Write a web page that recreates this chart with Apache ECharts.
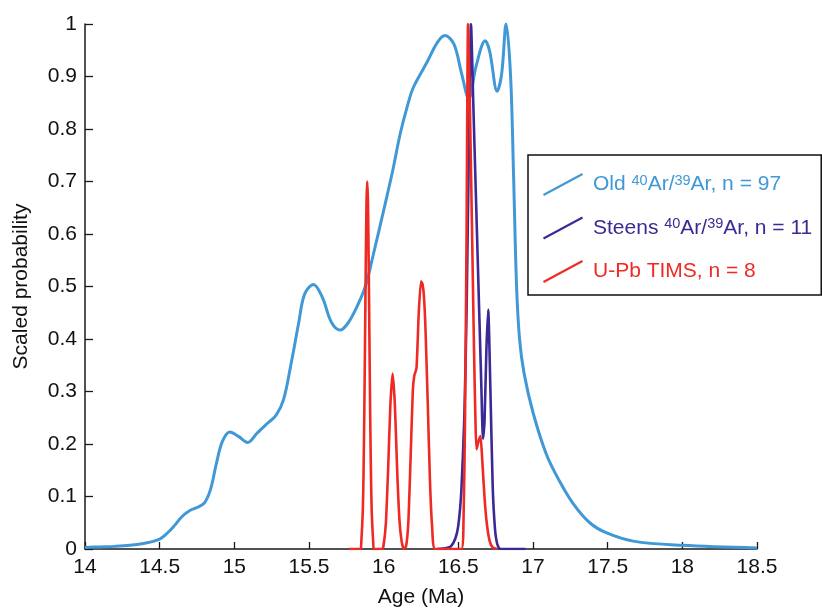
<!DOCTYPE html>
<html>
<head>
<meta charset="utf-8">
<script src="https://cdn.jsdelivr.net/npm/echarts@6/dist/echarts.min.js"></script>
<style>html,body{margin:0;padding:0;background:#fff}#c{width:822px;height:613px}</style>
</head>
<body>
<div id="c"></div>
<script>
// Old 40Ar/39Ar (n = 97) - [age Ma, scaled probability]
const oldAr = [
  [14.0,0.003],[14.1,0.004],[14.2,0.005],[14.3,0.007],[14.4,0.011],[14.5,0.019],
  [14.55,0.03],[14.6,0.045],[14.65,0.062],[14.7,0.073],[14.75,0.079],[14.8,0.088],
  [14.84,0.113],[14.88,0.163],[14.92,0.205],[14.97,0.223],[15.03,0.214],[15.09,0.203],
  [15.15,0.22],[15.22,0.239],[15.28,0.255],[15.33,0.285],[15.38,0.353],[15.43,0.429],
  [15.47,0.485],[15.53,0.504],[15.59,0.479],[15.65,0.432],[15.71,0.417],[15.76,0.43],
  [15.81,0.455],[15.875,0.498],[15.93,0.56],[16.0,0.645],[16.06,0.72],[16.11,0.79],
  [16.16,0.845],[16.2,0.88],[16.29,0.927],[16.36,0.965],[16.41,0.978],[16.47,0.962],[16.52,0.908],
  [16.57,0.858],[16.62,0.921],[16.68,0.968],[16.71,0.948],[16.76,0.872],[16.79,0.905],
  [16.82,1.0],[16.85,0.9],[16.87,0.71],[16.89,0.5],[16.91,0.40],[16.94,0.335],
  [17.0,0.26],[17.09,0.18],[17.18,0.128],[17.27,0.086],[17.38,0.05],[17.49,0.031],
  [17.67,0.015],[18.0,0.007],[18.5,0.002]
];
// Steens 40Ar/39Ar (n = 11)
const steensAr = [
  [16.36,0],[16.42,0.002],[16.45,0.005],[16.48,0.02],[16.5,0.045],[16.52,0.11],
  [16.54,0.25],[16.555,0.45],[16.57,0.75],[16.585,1.0],[16.6,0.85],[16.62,0.65],
  [16.64,0.45],[16.655,0.3],[16.665,0.21],[16.675,0.24],[16.688,0.38],[16.7,0.456],
  [16.715,0.3],[16.73,0.12],[16.745,0.04],[16.76,0.01],[16.78,0],[16.95,0]
];
// U-Pb TIMS (n = 8)
const upbTims = [
  [15.77,0],[15.845,0],[15.85,0.012],[15.86,0.07],[15.865,0.14],[15.87,0.25],[15.875,0.39],
  [15.88,0.54],[15.885,0.66],[15.89,0.70],[15.895,0.66],[15.9,0.54],[15.905,0.39],
  [15.91,0.25],[15.915,0.14],[15.92,0.07],[15.93,0.012],[15.935,0],
  [15.99,0],[16.0,0.008],[16.015,0.05],[16.03,0.153],[16.045,0.275],[16.06,0.334],[16.075,0.275],
  [16.09,0.153],[16.105,0.058],[16.12,0.015],[16.135,0],
  [16.15,0.005],[16.165,0.05],[16.18,0.17],[16.195,0.3],[16.205,0.33],[16.22,0.345],
  [16.235,0.45],[16.25,0.51],[16.26,0.505],[16.27,0.48],[16.28,0.42],[16.295,0.28],
  [16.31,0.13],[16.325,0.04],[16.345,0],
  [16.52,0],[16.535,0.06],[16.545,0.25],[16.555,0.6],[16.565,1.0],[16.575,0.88],
  [16.585,0.72],[16.595,0.55],[16.605,0.38],[16.615,0.24],[16.622,0.19],[16.635,0.205],
  [16.648,0.215],[16.66,0.17],[16.675,0.1],[16.69,0.05],[16.71,0.015],[16.73,0.003],[16.76,0]
];
const seriesNames = ['old', 'steens', 'upb'];
const legendLabels = [
  'Old {sup|40}Ar/{sup|39}Ar, n = 97',
  'Steens {sup|40}Ar/{sup|39}Ar, n = 11',
  'U-Pb TIMS, n = 8'
];
const colors = ['#4099d6', '#3b2a95', '#ee2a24'];
const xTicks = {min: 14, max: 18.5, interval: 0.5};
const yTicks = {min: 0, max: 1, interval: 0.1};

const chart = echarts.init(document.getElementById('c'), null, {renderer: 'canvas'});
const axisColor = '#1a1a1a';
const mainFont = "'Liberation Sans', Arial, sans-serif";
const dataSets = [oldAr, steensAr, upbTims];
const widths = [3, 2.6, 2.6];

chart.setOption({
  animation: false,
  backgroundColor: '#fff',
  grid: {left: 85, right: 65, top: 24, bottom: 61, containLabel: false},
  xAxis: {
    type: 'value', min: xTicks.min, max: xTicks.max, interval: xTicks.interval,
    name: 'Age (Ma)', nameLocation: 'middle', nameGap: 38,
    nameTextStyle: {fontFamily: mainFont, fontSize: 21, color: '#111'},
    axisLine: {show: true, onZero: false, lineStyle: {color: axisColor, width: 1.5}},
    axisTick: {show: true, inside: true, length: 7, lineStyle: {color: axisColor, width: 1.3}},
    axisLabel: {fontFamily: mainFont, fontSize: 21, color: '#111', margin: 8},
    splitLine: {show: false}
  },
  yAxis: {
    type: 'value', min: yTicks.min, max: yTicks.max, interval: yTicks.interval,
    name: 'Scaled probability', nameLocation: 'middle', nameGap: 53,
    nameTextStyle: {fontFamily: mainFont, fontSize: 21, color: '#111'},
    axisLine: {show: true, lineStyle: {color: axisColor, width: 1.5}},
    axisTick: {show: true, inside: true, length: 8, lineStyle: {color: axisColor, width: 1.3}},
    axisLabel: {fontFamily: mainFont, fontSize: 21, color: '#111', margin: 8},
    splitLine: {show: false}
  },
  legend: {
    orient: 'vertical', left: 528, top: 155,
    padding: [18, 9, 12, 15],
    borderColor: '#111', borderWidth: 1.5,
    itemGap: 20.5, itemWidth: 40, itemHeight: 23,
    icon: 'path://M0,21 L39,0 L40,2 L1,23 Z',
    itemStyle: {borderWidth: 0},
    data: seriesNames.map((n, i) => ({name: n, textStyle: {color: colors[i]}})),
    formatter: name => legendLabels[seriesNames.indexOf(name)],
    textStyle: {
      fontFamily: mainFont, fontSize: 21, lineHeight: 23, padding: [0, 0, 0, 5],
      rich: {
        sup: {fontFamily: mainFont, fontSize: 14.5, verticalAlign: 'top', lineHeight: 12}
      }
    }
  },
  series: seriesNames.map((n, i) => ({
    name: n, type: 'line', data: dataSets[i],
    showSymbol: false, smooth: i === 0 ? 0.35 : 0.2,
    color: colors[i],
    itemStyle: {color: colors[i]},
    lineStyle: {color: colors[i], width: widths[i]},
    emphasis: {disabled: true},
    z: 2 + i
  }))
});
</script>
</body>
</html>
